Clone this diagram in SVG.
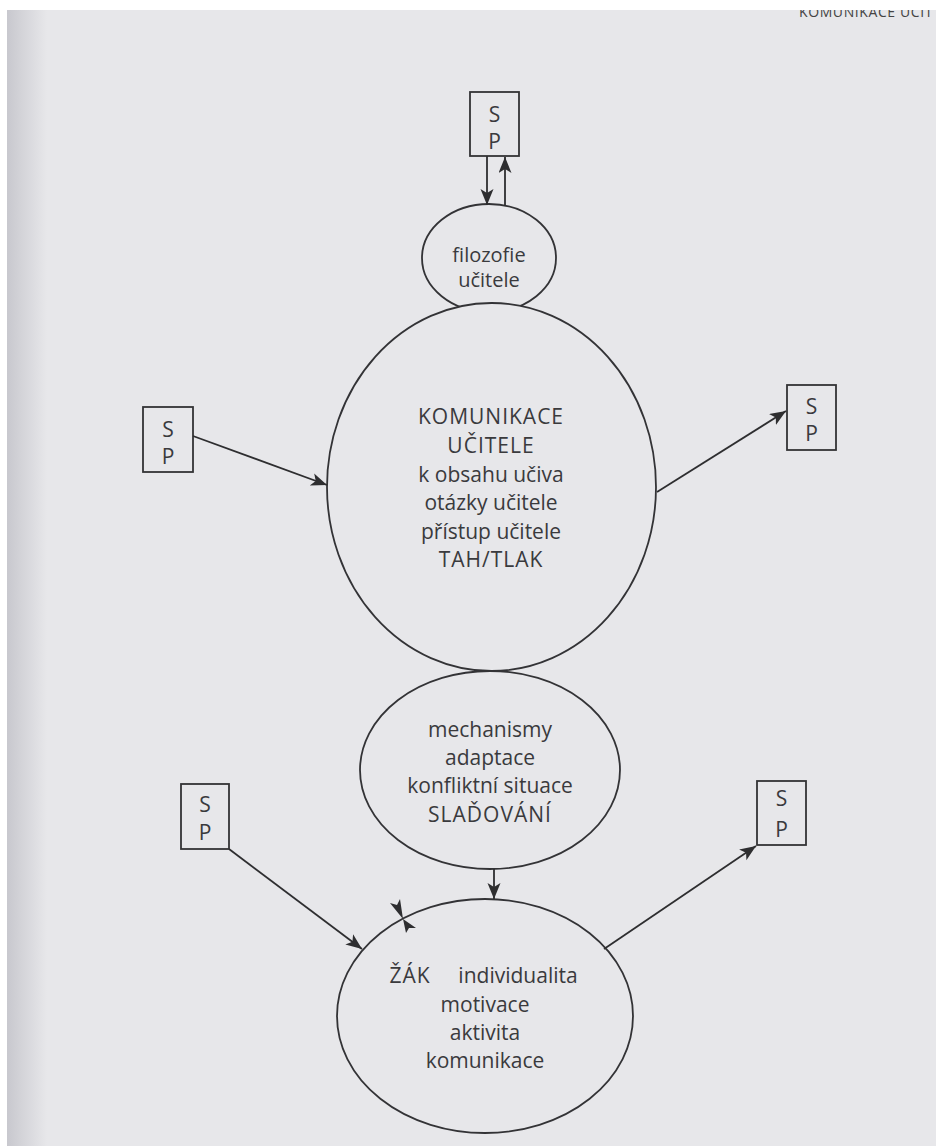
<svg xmlns="http://www.w3.org/2000/svg" width="936" height="1146" viewBox="0 0 936 1146">
<defs>
<linearGradient id="edge" x1="0" y1="0" x2="1" y2="0">
<stop offset="0" stop-color="#c8c8ce"/>
<stop offset="1" stop-color="#e7e7ea"/>
</linearGradient>
<marker id="ah" markerUnits="userSpaceOnUse" markerWidth="18" markerHeight="14" refX="16" refY="6.5" orient="auto">
<path d="M0,0 L16,6.5 L0,13 L4,6.5 Z" fill="#2e2e30"/>
</marker>
<style>
.bg{fill:#e7e7ea}
.shape{fill:#e7e7ea;stroke:#333336;stroke-width:1.8}
.box{fill:none;stroke:#333336;stroke-width:1.8}
.t{font-family:"Open Sans","Noto Sans",sans-serif;font-size:21px;fill:#3a3a3d;text-anchor:middle}
.small{font-size:20px}
.caps{letter-spacing:1px}
.sp{font-family:"Open Sans","Noto Sans",sans-serif;font-size:21px;fill:#3a3a3d;text-anchor:middle}
.line{stroke:#2e2e30;stroke-width:1.8;fill:none}
.head{font-family:"Open Sans","Noto Sans",sans-serif;font-size:14px;fill:#444;letter-spacing:0.6px}
</style>
</defs>
<rect x="0" y="0" width="936" height="1146" fill="#ffffff"/>
<rect x="7" y="10" width="929" height="1136" class="bg"/>
<rect x="7" y="10" width="40" height="1136" fill="url(#edge)"/>
<text class="head" x="799" y="17">KOMUNIKACE UČIT</text>
<rect x="0" y="0" width="936" height="10" fill="#ffffff"/>

<g id="filozofie">
<ellipse class="shape" cx="489" cy="258" rx="67" ry="54"/>
<text class="t small" x="489" y="262">filozofie</text>
<text class="t small" x="489" y="287">učitele</text>
</g>

<g id="komunikace-ucitele">
<ellipse class="shape" cx="491.5" cy="487" rx="164.5" ry="184"/>
<text class="t caps" x="491" y="424">KOMUNIKACE</text>
<text class="t caps" x="491" y="453">UČITELE</text>
<text class="t" x="491" y="481.5">k obsahu učiva</text>
<text class="t" x="491" y="510">otázky učitele</text>
<text class="t" x="491" y="538.5">přístup učitele</text>
<text class="t caps" x="491" y="567">TAH/TLAK</text>
</g>

<g id="mechanismy">
<ellipse class="shape" cx="490" cy="770" rx="130" ry="99"/>
<text class="t" x="490" y="737">mechanismy</text>
<text class="t" x="490" y="765">adaptace</text>
<text class="t" x="490" y="793">konfliktní situace</text>
<text class="t caps" x="490" y="822">SLAĎOVÁNÍ</text>
</g>

<g id="zak">
<ellipse class="shape" cx="485" cy="1016" rx="148" ry="117"/>
<text class="t caps" x="410" y="983">ŽÁK</text>
<text class="t" x="518" y="983">individualita</text>
<text class="t" x="485" y="1012">motivace</text>
<text class="t" x="485" y="1040">aktivita</text>
<text class="t" x="485" y="1068">komunikace</text>
</g>

<g id="sp-top">
<rect class="box" x="470" y="92" width="49" height="64"/>
<text class="sp" x="494.5" y="122">S</text>
<text class="sp" x="494.5" y="149">P</text>
</g>

<g id="sp-left-middle">
<rect class="box" x="143" y="407" width="50" height="65"/>
<text class="sp" x="168" y="437">S</text>
<text class="sp" x="168" y="464">P</text>
</g>

<g id="sp-right-top">
<rect class="box" x="787" y="385" width="49" height="65"/>
<text class="sp" x="811.5" y="414">S</text>
<text class="sp" x="811.5" y="441">P</text>
</g>

<g id="sp-left-bottom">
<rect class="box" x="181" y="784" width="48" height="65"/>
<text class="sp" x="205" y="812">S</text>
<text class="sp" x="205" y="840">P</text>
</g>

<g id="sp-right-bottom">
<rect class="box" x="757" y="781" width="49" height="64"/>
<text class="sp" x="781.5" y="806">S</text>
<text class="sp" x="781.5" y="837">P</text>
</g>

<g id="connectors">
<line class="line" x1="487" y1="156" x2="487" y2="205" marker-end="url(#ah)"/>
<line class="line" x1="505" y1="206" x2="505" y2="157" marker-end="url(#ah)"/>
<line class="line" x1="193" y1="436" x2="327" y2="485" marker-end="url(#ah)"/>
<line class="line" x1="657" y1="492" x2="786" y2="411" marker-end="url(#ah)"/>
<line class="line" x1="494" y1="869" x2="494" y2="899" marker-end="url(#ah)"/>
<line class="line" x1="229" y1="849" x2="362" y2="949" marker-end="url(#ah)"/>
<line class="line" x1="604" y1="949" x2="756" y2="846" marker-end="url(#ah)"/>
<path d="M403,919 L390,903 L397,905 L400,899 Z" fill="#2e2e30"/>
<path d="M403,919 L416,928 L409,928 L406,933 Z" fill="#2e2e30"/>
</g>
</svg>
